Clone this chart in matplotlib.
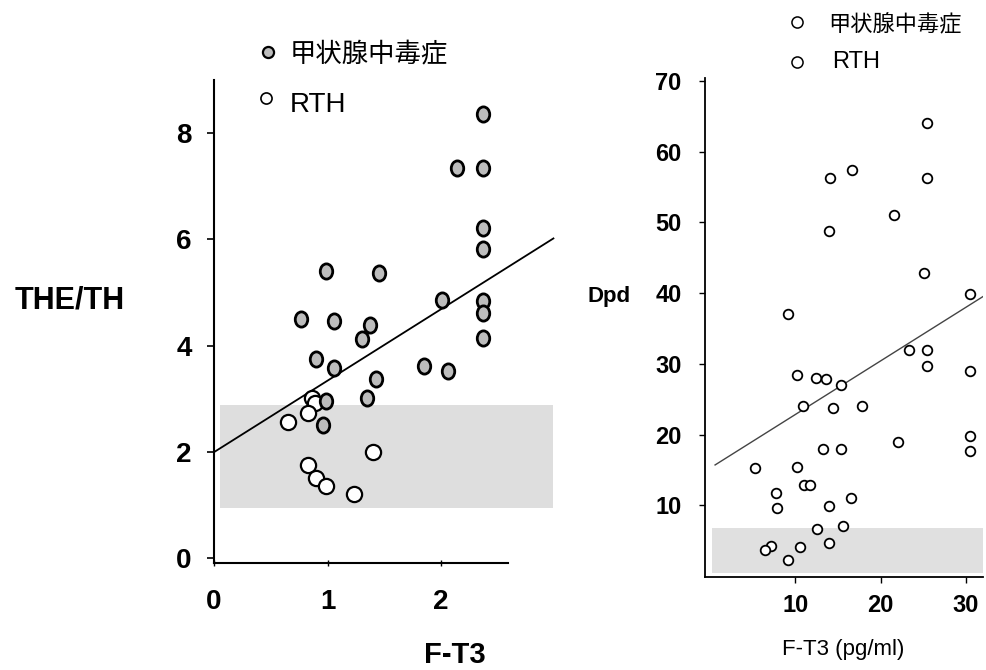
import matplotlib
matplotlib.use("Agg")
import matplotlib.pyplot as plt
import numpy as np
from matplotlib.lines import Line2D
from matplotlib.path import Path
from matplotlib.transforms import Affine2D

plt.rcParams['font.family'] = ['Liberation Sans', 'Noto Sans CJK JP', 'DejaVu Sans']

# ---------------- data: left panel (THE/TH vs F-T3) ----------------
left_thyro_x = [2.37, 2.14, 2.37, 2.37, 2.37, 0.99, 1.45, 2.01, 2.37, 2.37, 2.37,
                0.77, 1.06, 1.37, 1.30, 0.90, 1.06, 1.85, 2.06, 1.43, 1.35, 0.99, 0.96]
left_thyro_y = [8.36, 7.34, 7.34, 6.21, 5.83, 5.40, 5.37, 4.87, 4.85, 4.62, 4.15,
                4.50, 4.47, 4.40, 4.12, 3.76, 3.58, 3.62, 3.52, 3.38, 3.02, 2.96, 2.51]
left_rth_x = [0.86, 0.89, 0.83, 0.65, 1.40, 0.83, 0.90, 0.99, 1.23]
left_rth_y = [3.02, 2.93, 2.74, 2.57, 2.01, 1.76, 1.52, 1.37, 1.22]
left_line_x = [0.0, 2.99]
left_line_y = [2.0, 6.02]
left_band_x = [0.05, 2.99]
left_band_y = [0.95, 2.88]
left_xticks = [0, 1, 2]
left_yticks = [0, 2, 4, 6, 8]

# ---------------- data: right panel (Dpd vs F-T3) ----------------
right_x = [25.4, 16.6, 14.1, 25.4, 21.6, 14.0, 25.1, 30.5, 9.2,
           23.3, 25.4, 25.4, 30.5, 10.2, 12.4, 13.6, 15.4, 10.9, 14.4, 17.8,
           22.1, 30.5, 30.5, 13.2, 15.4, 5.3, 10.2, 11.0, 11.7, 7.7, 7.9,
           14.0, 16.5, 12.5, 15.6, 7.1, 6.5, 10.6, 14.0, 9.1]
right_y = [64.1, 57.4, 56.2, 56.3, 51.0, 48.7, 42.9, 39.8, 37.0,
           31.9, 31.9, 29.7, 29.0, 28.4, 28.0, 27.9, 27.0, 24.0, 23.8, 24.0,
           19.0, 19.8, 17.7, 18.0, 18.0, 15.2, 15.4, 12.8, 12.8, 11.7, 9.6,
           9.9, 11.0, 6.6, 7.1, 4.3, 3.7, 4.1, 4.6, 2.3]
right_line_x = [0.6, 32.0]
right_line_y = [15.7, 39.5]
right_band_x = [0.2, 32.0]
right_band_y = [0.4, 6.8]
right_xticks = [10, 20, 30]
right_yticks = [10, 20, 30, 40, 50, 60, 70]

legend_labels = ['甲状腺中毒症', 'RTH']

# slightly tall ellipse marker for the grey points
ellipse = Path.unit_circle().transformed(Affine2D().scale(0.82, 1.0))

fig = plt.figure(figsize=(9.87, 6.70), dpi=100)

# ---------------- left panel ----------------
ax1 = fig.add_axes([0.2168, 0.1597, 0.2979, 0.7209])
ax1.fill_between(left_band_x, left_band_y[0], left_band_y[1], color='#dedede', lw=0,
                 zorder=1, clip_on=False)
ax1.plot(left_line_x, left_line_y, color='black', lw=1.3, zorder=2, clip_on=False)
ax1.scatter(left_rth_x, left_rth_y, s=120, facecolor='white', edgecolor='black', lw=1.6, zorder=3)
ax1.scatter(left_thyro_x, left_thyro_y, s=120, marker=ellipse, facecolor='#bdbdbd',
            edgecolor='black', lw=2.0, zorder=4)
ax1.set_xlim(0, 2.59)
ax1.set_ylim(-0.085, 9.0)
ax1.set_xticks(left_xticks)
ax1.set_yticks(left_yticks)
ax1.set_xticklabels([str(t) for t in left_xticks], fontsize=20, fontweight='bold')
ax1.set_yticklabels([str(t) for t in left_yticks], fontsize=20, fontweight='bold')
ax1.tick_params(axis='y', direction='out', length=5, width=1.2, pad=11)
ax1.tick_params(axis='x', direction='inout', length=5, width=1.0, pad=16)
for s in ['top', 'right']:
    ax1.spines[s].set_visible(False)
ax1.spines['left'].set_linewidth(1.5)
ax1.spines['bottom'].set_linewidth(1.5)

fig.text(0.0709, 0.552, 'THE/TH', fontsize=22, fontweight='bold', ha='center', va='center')
fig.text(0.461, 0.0224, 'F-T3', fontsize=21, fontweight='bold', ha='center', va='center')

# left legend
fig.add_artist(Line2D([0.2715], [0.9224], marker='o', markersize=8, markerfacecolor='#bdbdbd',
                      markeredgecolor='black', markeredgewidth=1.6, transform=fig.transFigure))
fig.add_artist(Line2D([0.2695], [0.8537], marker='o', markersize=8, markerfacecolor='white',
                      markeredgecolor='black', markeredgewidth=1.2, transform=fig.transFigure))
fig.text(0.2938, 0.918, legend_labels[0], fontsize=19, ha='left', va='center',
         family=['Noto Sans CJK JP', 'Liberation Sans'])
fig.text(0.2938, 0.8433, legend_labels[1], fontsize=20, ha='left', va='center')

# ---------------- right panel ----------------
ax2 = fig.add_axes([0.7143, 0.1388, 0.2816, 0.7448])
ax2.fill_between(right_band_x, right_band_y[0], right_band_y[1], color='#e0e0e0', lw=0, zorder=1)
ax2.plot(right_line_x, right_line_y, color='#444444', lw=1.0, zorder=2)
ax2.scatter(right_x, right_y, s=48, facecolor='white', edgecolor='black', lw=1.3, zorder=3)
ax2.set_xlim(-0.58, 32.0)
ax2.set_ylim(-0.14, 70.4)
ax2.set_xticks(right_xticks)
ax2.set_yticks(right_yticks)
ax2.set_xticklabels([str(t) for t in right_xticks], fontsize=17, fontweight='bold')
ax2.set_yticklabels([str(t) for t in right_yticks], fontsize=17, fontweight='bold')
ax2.tick_params(axis='y', direction='out', length=4, width=1.0, pad=13)
ax2.tick_params(axis='x', direction='out', length=4, width=1.0, pad=8)
for s in ['top', 'right']:
    ax2.spines[s].set_visible(False)
ax2.spines['left'].set_linewidth(1.3)
ax2.spines['bottom'].set_linewidth(1.3)

fig.text(0.617, 0.558, 'Dpd', fontsize=16, fontweight='bold', ha='center', va='center')
fig.text(0.854, 0.0299, 'F-T3 (pg/ml)', fontsize=16, ha='center', va='center')

# right legend
for yy in [0.967, 0.9075]:
    fig.add_artist(Line2D([0.8075], [yy], marker='o', markersize=8, markerfacecolor='white',
                          markeredgecolor='black', markeredgewidth=1.1, transform=fig.transFigure))
fig.text(0.8389, 0.9627, legend_labels[0], fontsize=16, ha='left', va='center',
         family=['Noto Sans CJK JP', 'Liberation Sans'])
fig.text(0.843, 0.9075, legend_labels[1], fontsize=17, ha='left', va='center')

fig.savefig('out.png', dpi=100)
